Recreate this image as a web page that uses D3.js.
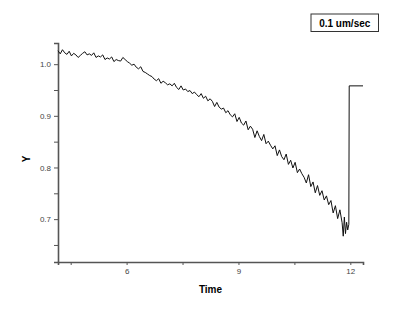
<!DOCTYPE html>
<html>
<head>
<meta charset="utf-8">
<script src="https://cdn.jsdelivr.net/npm/d3@7"></script>
<style>
  body { margin: 0; background: #fff; }
  svg { display: block; }
</style>
</head>
<body>
<svg></svg>
<script>
// trace: time and signal
const time = [
  4.16, 4.22, 4.28, 4.34, 4.40, 4.46, 4.52, 4.58, 4.64, 4.70,
  4.76, 4.82, 4.88, 4.94, 5.00, 5.06, 5.12, 5.18, 5.24, 5.30,
  5.36, 5.42, 5.48, 5.54, 5.60, 5.66, 5.72, 5.78, 5.84, 5.90,
  5.96, 6.02, 6.08, 6.14, 6.20, 6.26, 6.32, 6.38, 6.44, 6.50,
  6.56, 6.62, 6.68, 6.74, 6.80, 6.86, 6.92, 6.98, 7.04, 7.10,
  7.16, 7.22, 7.28, 7.34, 7.40, 7.46, 7.52, 7.58, 7.64, 7.70,
  7.76, 7.82, 7.88, 7.94, 8.00, 8.06, 8.12, 8.18, 8.24, 8.30,
  8.36, 8.42, 8.48, 8.54, 8.60, 8.66, 8.72, 8.78, 8.84, 8.90,
  8.96, 9.02, 9.08, 9.14, 9.20, 9.26, 9.32, 9.38, 9.44, 9.50,
  9.56, 9.62, 9.68, 9.74, 9.80, 9.86, 9.92, 9.98, 10.04, 10.10,
  10.16, 10.22, 10.28, 10.34, 10.40, 10.46, 10.52, 10.58, 10.64, 10.70,
  10.76, 10.82, 10.88, 10.94, 11.00, 11.06, 11.12, 11.18, 11.24, 11.30,
  11.36, 11.42, 11.48, 11.54, 11.60, 11.66, 11.72, 11.78, 11.81, 11.84,
  11.87, 11.90, 11.93, 11.96, 11.97, 12.34
];
const signal = [
  1.026, 1.020, 1.028, 1.022, 1.019, 1.025, 1.016, 1.021, 1.018, 1.013,
  1.017, 1.021, 1.024, 1.018, 1.020, 1.017, 1.022, 1.013, 1.016, 1.014,
  1.018, 1.009, 1.012, 1.010, 1.014, 1.005, 1.009, 1.007, 1.006, 1.013,
  1.009, 1.005, 1.002, 0.998, 1.000, 0.994, 0.991, 0.995, 0.986, 0.984,
  0.981, 0.978, 0.976, 0.971, 0.968, 0.972, 0.963, 0.967, 0.964, 0.960,
  0.962, 0.958, 0.963, 0.955, 0.951, 0.958, 0.950, 0.952, 0.947, 0.949,
  0.943, 0.946, 0.941, 0.937, 0.943, 0.934, 0.938, 0.929, 0.933, 0.928,
  0.918, 0.926, 0.917, 0.913, 0.915, 0.906, 0.910, 0.902, 0.898, 0.904,
  0.889, 0.897, 0.886, 0.882, 0.890, 0.873, 0.880, 0.874, 0.858, 0.871,
  0.860, 0.852, 0.864, 0.846, 0.851, 0.843, 0.836, 0.842, 0.823, 0.834,
  0.821, 0.815, 0.826, 0.806, 0.814, 0.799, 0.810, 0.790, 0.797, 0.788,
  0.781, 0.770, 0.786, 0.763, 0.772, 0.751, 0.765, 0.746, 0.755, 0.737,
  0.745, 0.728, 0.736, 0.712, 0.726, 0.701, 0.718, 0.693, 0.667, 0.704,
  0.672, 0.694, 0.679, 0.690, 0.958, 0.958
];
const xMajor = [6, 9, 12];
const xMinor = [4.5, 7.5, 10.5];
const yMajor = [0.7, 0.8, 0.9, 1.0];
const yMinor = [0.65, 0.75, 0.85, 0.95];
const legendText = "0.1 um/sec";

const width = 400, height = 309;
const margin = { top: 43, right: 37, bottom: 47, left: 58 };

const svg = d3.select("svg")
    .attr("width", width)
    .attr("height", height);

const x = d3.scaleLinear()
    .domain([4.16, 12.34])
    .range([margin.left, width - margin.right]);

const y = d3.scaleLinear()
    .domain([0.617, 1.041])
    .range([height - margin.bottom, margin.top]);

const axisColor = "#555";

// y axis
const gy = svg.append("g")
    .attr("transform", `translate(${margin.left},0)`)
    .call(d3.axisLeft(y).tickValues(yMajor).tickSize(4).tickPadding(3)
        .tickFormat(d3.format(".1f")));
gy.append("g")
    .call(d3.axisLeft(y).tickValues(yMinor).tickSize(4).tickFormat(""))
    .select(".domain").remove();

// x axis
const gx = svg.append("g")
    .attr("transform", `translate(0,${height - margin.bottom})`)
    .call(d3.axisBottom(x).tickValues(xMajor).tickSize(3).tickPadding(3)
        .tickFormat(d3.format("d")));
gx.append("g")
    .call(d3.axisBottom(x).tickValues(xMinor).tickSize(3).tickFormat(""))
    .select(".domain").remove();

svg.selectAll(".domain")
    .attr("stroke", axisColor)
    .attr("stroke-width", 1.6);
svg.selectAll(".tick line").attr("stroke", axisColor);
svg.selectAll(".tick text")
    .attr("fill", "#444")
    .style("font", "8px 'Liberation Sans', Arial, sans-serif");

// trace
const pts = time.map((t, i) => [t, signal[i]]);
svg.append("path")
    .datum(pts)
    .attr("fill", "none")
    .attr("stroke", "#111")
    .attr("stroke-width", 1)
    .attr("d", d3.line().x(d => x(d[0])).y(d => y(d[1])));

// axis titles
svg.append("text")
    .attr("x", (margin.left + width - margin.right) / 2)
    .attr("y", 293)
    .attr("text-anchor", "middle")
    .style("font", "bold 10px 'Liberation Sans', Arial, sans-serif")
    .text("Time");

svg.append("text")
    .attr("transform", "translate(30,159) rotate(-90)")
    .attr("text-anchor", "middle")
    .style("font", "bold 10px 'Liberation Sans', Arial, sans-serif")
    .text("Y");

// legend box
const lg = svg.append("g").attr("transform", "translate(311,14)");
lg.append("rect")
    .attr("width", 67.5)
    .attr("height", 17.5)
    .attr("fill", "#fff")
    .attr("stroke", "#333")
    .attr("stroke-width", 1);
lg.append("text")
    .attr("x", 33.75)
    .attr("y", 12.5)
    .attr("text-anchor", "middle")
    .style("font", "bold 10px 'Liberation Sans', Arial, sans-serif")
    .text(legendText);
</script>
</body>
</html>
